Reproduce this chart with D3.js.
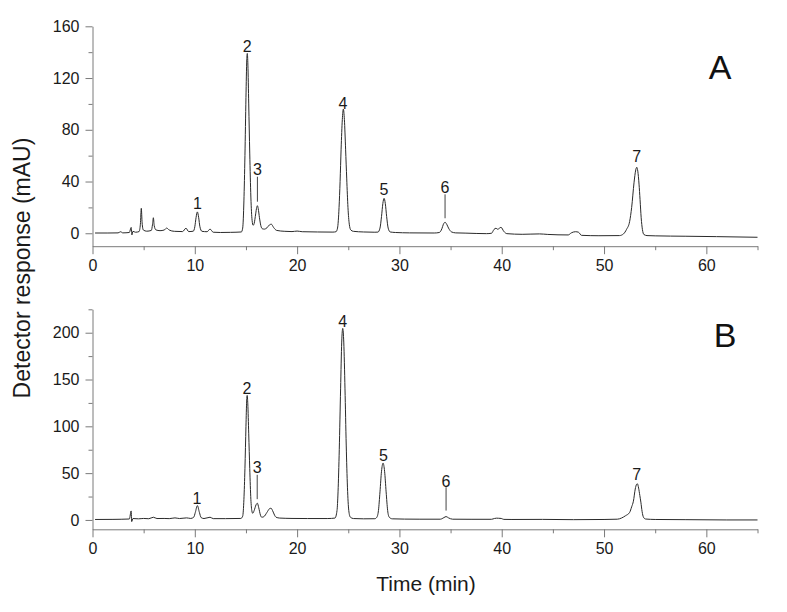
<!DOCTYPE html>
<html>
<head>
<meta charset="utf-8">
<script src="https://cdn.jsdelivr.net/npm/d3@7"></script>
<style>
  html, body { margin: 0; padding: 0; background: #fff; }
  svg { display: block; font-family: "Liberation Sans", Arial, sans-serif; }
</style>
</head>
<body>
<svg id="chart" width="787" height="612"></svg>
<script>
// ---------------- data ----------------
const timeTicks = [0, 10, 20, 30, 40, 50, 60];
const timeMinorTicks = [5, 15, 25, 35, 45, 55, 65];
const yTicksA = [0, 40, 80, 120, 160];
const yMinorA = [20, 60, 100, 140];
const yTicksB = [0, 50, 100, 150, 200];
const yMinorB = [25, 75, 125, 175, 225];

// chromatogram A: [time (min), response (mAU)]
const traceA = [
  [0.25,0.2],[1.5,0.2],[2.5,0.3],[2.76,1.2],[2.95,0.3],[3.6,0.6],[3.78,4.5],[3.85,-1.3],[3.95,1.5],
  [4.2,0.8],[4.55,1.3],[4.68,7],[4.77,19.3],[4.85,8],[4.97,2.5],[5.3,1.6],[5.75,2.2],[5.87,7],
  [5.95,12],[6.03,6],[6.2,2.6],[6.6,2],[7.0,2.5],[7.25,4],[7.5,2.5],[8.0,1.5],[8.8,1.3],[9.14,3.9],
  [9.4,1.3],[9.85,1.6],[10.0,5],[10.12,12],[10.25,16.5],[10.38,12],[10.5,5],[10.7,1.5],[11.2,1.2],
  [11.49,3.2],[11.8,0.8],[12.5,0.6],[13.5,0.7],[14.55,1.0],[14.68,4],[14.8,25],[14.9,60],[15.0,105],
  [15.08,134],[15.13,139],[15.19,130],[15.27,100],[15.37,62],[15.48,28],[15.6,10],[15.7,6.2],
  [15.8,7.5],[15.95,15],[16.05,20],[16.12,21.3],[16.2,19],[16.32,12],[16.45,6],[16.6,3.5],[16.8,3.2],
  [17.05,4.2],[17.3,6.5],[17.48,7],[17.7,4.5],[18.0,2.2],[18.8,1.5],[19.5,1.3],[20.0,1.7],[20.5,1.2],
  [22.0,1.0],[23.5,0.9],[23.8,1.2],[23.95,4],[24.1,20],[24.2,40],[24.3,65],[24.42,88],[24.52,96],
  [24.62,88],[24.74,65],[24.85,42],[24.97,20],[25.1,7],[25.25,2.5],[25.5,1.5],[26.5,1.0],[27.6,0.8],
  [27.9,0.9],[28.1,4],[28.25,13],[28.38,23],[28.5,27],[28.62,23],[28.75,13],[28.9,4],[29.1,1],
  [29.6,0.6],[31.0,0.3],[33.4,0.2],[33.9,0.6],[34.15,3.5],[34.3,7],[34.46,8.5],[34.62,7],[34.8,4],
  [35.1,1],[35.5,0.3],[36.5,0.1],[38.5,-0.3],[39.0,0],[39.25,3],[39.44,3.9],[39.6,3.1],[39.93,4.6],
  [40.2,1.5],[40.5,-0.3],[42.0,-0.8],[43.7,-0.5],[44.5,-0.9],[46.5,-1.3],[46.8,0.3],[47.2,1.2],
  [47.5,0.8],[47.8,-1.6],[49.5,-1.9],[51.5,-1.8],[51.9,-0.5],[52.2,3],[52.5,9],[52.7,20],[52.93,39],
  [53.1,49],[53.2,51],[53.3,48],[53.42,38],[53.52,26],[53.63,12],[53.75,3],[53.9,-1],[54.2,-1.8],
  [55.0,-2.0],[58.0,-2.3],[61.0,-2.6],[65.0,-3.1]
];

// chromatogram B: [time (min), response (mAU)]
const traceB = [
  [0.25,0.5],[2.0,0.6],[3.6,1.0],[3.78,9.6],[3.83,-1.8],[3.95,1.5],[4.5,1.2],[5.0,1.6],[5.5,1.3],
  [5.95,2.9],[6.3,1.5],[7.0,1.6],[7.5,1.4],[8.06,2.2],[8.5,1.5],[9.2,2.2],[9.6,1.6],[9.9,3],
  [10.05,8],[10.25,15.3],[10.45,8],[10.62,2.5],[10.9,1.5],[11.49,2.9],[11.8,1.4],[13.0,1.4],
  [14.5,1.6],[14.68,4],[14.8,22],[14.9,55],[15.0,100],[15.07,127],[15.12,133],[15.18,124],
  [15.27,92],[15.37,55],[15.48,22],[15.58,9.5],[15.66,7.1],[15.8,10],[15.98,16],[16.11,17.9],
  [16.25,13],[16.42,5],[16.54,2.9],[16.75,3.5],[17.05,8],[17.3,12],[17.45,12.5],[17.6,10],
  [17.8,5],[17.94,2.9],[18.3,2],[19.5,1.6],[21.0,1.5],[23.0,1.5],[23.7,2],[23.9,10],[24.0,30],
  [24.12,75],[24.25,140],[24.36,190],[24.46,204.6],[24.56,190],[24.68,140],[24.8,80],[24.92,35],
  [25.05,10],[25.2,3],[25.5,1.5],[26.5,1.2],[27.6,1.3],[27.8,3],[27.95,10],[28.1,30],[28.25,52],
  [28.4,60.7],[28.55,52],[28.7,30],[28.85,10],[29.0,3],[29.3,1.2],[30.5,0.9],[32.0,0.8],[34.0,0.8],
  [34.35,2.5],[34.56,3.6],[34.8,2.2],[35.2,0.8],[37.0,0.7],[39.0,0.7],[39.3,1.6],[39.5,1.9],
  [39.7,1.8],[39.95,1.6],[40.2,0.6],[41.0,0.5],[44.0,0.6],[47.0,0.3],[50.0,0.5],[51.3,0.8],
  [51.7,2],[52.1,4.5],[52.5,8],[52.7,14],[52.87,20],[53.05,33],[53.18,38],[53.26,38.6],[53.38,34],
  [53.5,26],[53.6,19],[53.72,9],[53.85,3],[54.05,1],[55.0,0.5],[58.0,0.3],[62.0,0],[65.0,0]
];

// peak labels: [label, time, label value, leader top, leader bottom]
const peaksA = [
  ["1",10.25,23.2,null,null],["2",15.13,144.2,null,null],["3",16.12,49.7,43.7,24.4],
  ["4",24.47,100.5,null,null],["5",28.5,34.2,null,null],["6",34.46,35.2,30.1,11.6],
  ["7",53.2,59.2,null,null]
];
const peaksB = [
  ["1",10.2,23.3,null,null],["2",15.1,141.1,null,null],["3",16.1,56.5,48.2,22.2],
  ["4",24.45,212.5,null,null],["5",28.45,68.6,null,null],["6",34.56,41.8,35,10],
  ["7",53.2,49.3,null,null]
];

// ---------------- drawing ----------------
const svg = d3.select("#chart");
svg.append("rect").attr("width",787).attr("height",612).attr("fill","#fff");

const x = d3.scaleLinear().domain([0,65]).range([92.5,757.5]);

const panels = [
  {trace: traceA, peaks: peaksA, dom:[-10,160], range:[246.2,26.3], major:yTicksA, minor:yMinorA, letter:"A", lx:720, ly:79},
  {trace: traceB, peaks: peaksB, dom:[-10,225], range:[529.3,309.3], major:yTicksB, minor:yMinorB, letter:"B", lx:725, ly:347}
];

const axisColor = "#7a7a7a";
const textColor = "#1a1a1a";

panels.forEach(p => {
  const y = d3.scaleLinear().domain(p.dom).range(p.range);
  const g = svg.append("g");

  // y axis
  const yMajor = g.append("g").attr("transform",`translate(${x(0)},0)`)
    .call(d3.axisLeft(y).tickValues(p.major).tickSize(7).tickSizeOuter(0).tickPadding(6).tickFormat(d3.format("d")));
  const yMin = g.append("g").attr("transform",`translate(${x(0)},0)`)
    .call(d3.axisLeft(y).tickValues(p.minor).tickSize(4).tickSizeOuter(0).tickFormat(""));
  yMin.select(".domain").remove();

  // x axis
  const xMajor = g.append("g").attr("transform",`translate(0,${y(-10)})`)
    .call(d3.axisBottom(x).tickValues(timeTicks).tickSize(8).tickSizeOuter(0).tickPadding(5).tickFormat(d3.format("d")));
  const xMin = g.append("g").attr("transform",`translate(0,${y(-10)})`)
    .call(d3.axisBottom(x).tickValues(timeMinorTicks).tickSize(4).tickSizeOuter(0).tickFormat(""));
  xMin.select(".domain").remove();

  g.selectAll(".domain, .tick line").attr("stroke",axisColor).attr("stroke-width",1);
  g.selectAll(".tick text").attr("fill",textColor).style("font-size","16px")
    .style("font-family","'Liberation Sans', Arial, sans-serif");

  // trace
  const line = d3.line().x(d => x(d[0])).y(d => y(d[1])).curve(d3.curveMonotoneX);
  g.append("path").datum(p.trace).attr("d",line)
    .attr("fill","none").attr("stroke","#2a2a2a").attr("stroke-width",1).attr("stroke-linejoin","round");

  // peak labels
  p.peaks.forEach(pk => {
    g.append("text").attr("x",x(pk[1])).attr("y",y(pk[2])).attr("dy","0.36em")
      .attr("text-anchor","middle").attr("fill",textColor).style("font-size","16px").text(pk[0]);
    if (pk[3] !== null) {
      g.append("line").attr("x1",x(pk[1])).attr("x2",x(pk[1]))
        .attr("y1",y(pk[3])).attr("y2",y(pk[4])).attr("stroke","#444").attr("stroke-width",1);
    }
  });

  // panel letter
  g.append("text").attr("x",p.lx).attr("y",p.ly).attr("text-anchor","middle")
    .attr("fill","#111").style("font-size","34px").text(p.letter);
});

// axis titles
svg.append("text").attr("x",426).attr("y",591).attr("text-anchor","middle")
  .attr("fill",textColor).style("font-size","21px").text("Time (min)");
svg.append("text").attr("transform","translate(30,268) rotate(-90)").attr("text-anchor","middle")
  .attr("fill",textColor).style("font-size","23px").text("Detector response (mAU)");
</script>
</body>
</html>
